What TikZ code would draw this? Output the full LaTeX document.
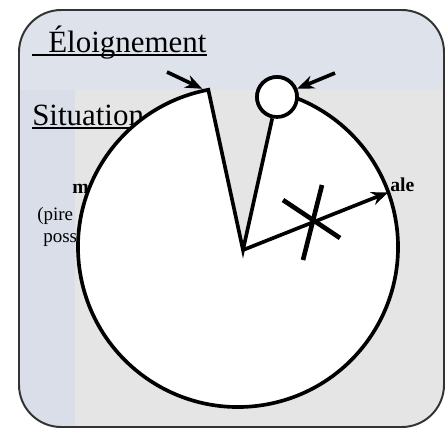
\documentclass[tikz,border=0pt]{standalone}
\usepackage{fontspec}
\setmainfont{Liberation Serif}
\usepackage{tikz}
\usetikzlibrary{arrows.meta, calc, positioning}
\definecolor{bandblue}{HTML}{DEE2EB}
\definecolor{stripblue}{HTML}{D9DEE9}
\definecolor{panelgray}{HTML}{E5E5E5}
\definecolor{rimgray}{HTML}{333333}

\begin{document}
\begin{tikzpicture}[x=0.025cm, y=-0.025cm, >={Stealth[length=12pt, width=9.5pt]},
    big/.style={font=\fontsize{22}{24}\selectfont, inner sep=0pt, anchor=base west},
    small/.style={font=\fontsize{13.5}{16}\selectfont, inner sep=0pt, anchor=base west},
    heavy/.style={line width=2.6pt, line join=miter},
    ul/.style={line width=1pt}]
    \useasboundingbox[fill=white] (0,0) rectangle (446,429);
    % fond du cadre
    \begin{scope}
        \clip[rounded corners=30] (19,10) rectangle (444,427);
        \fill[panelgray] (0,0) rectangle (446,429);
        \fill[bandblue] (0,0) rectangle (446,90);
        \fill[stripblue] (0,90) rectangle (75,429);
    \end{scope}
    \draw[rimgray, line width=1.4pt, rounded corners=30] (19,10) rectangle (444,427);
    % titres soulignes
    \node[big] (tEloi) at (48,52) {Éloignement};
    \draw[ul] ($(tEloi.base west)+(-16,3)$) -- ($(tEloi.base east)+(0,3)$);
    \node[big] (tSit) at (32,125) {Situation};
    \draw[ul] ($(tSit.base west)+(0,3)$) -- ($(tSit.base east)+(0,3)$);
    % textes caches par le disque
    \node[small, font=\fontsize{14}{16}\selectfont\bfseries] (tMin) at (72,193) {m};
    \node[small] (tPire) at (37,220) {(pire};
    \node[small] (tPoss) at (43,242) {poss};
    \node[small, font=\fontsize{14}{16}\selectfont\bfseries] (tAle) at (390,191) {ale};
    % disque entame
    \coordinate (C) at (238,247);
    \coordinate (V) at (243,250);
    \path (C) ++(259.3:160) coordinate (rimL);
    \path (C) ++(-20:160) coordinate (tipMax);
    \node[circle, draw, heavy, fill=white, minimum size=1cm, inner sep=0pt] (hole) at (277,97) {};
    \fill[white] (V) -- (rimL) arc[start angle=259.3, end angle=-68, radius=160] -- (hole.center) -- cycle;
    \draw[heavy] (hole) -- (V) -- (rimL) arc[start angle=259.3, end angle=-68, radius=160];
    \node[circle, draw, heavy, fill=white, minimum size=1cm, inner sep=0pt] at (hole) {};
    % fleches
    \coordinate (a1) at (167,72);
    \coordinate (a2) at (335,73);
    \draw[->, heavy] (a1) -- ($(rimL)+(-6,-1)$);
    \draw[->, heavy] (a2) -- (hole);
    \draw[->, heavy] (V) -- (tipMax);
    % croix
    \coordinate (X) at (313,222);
    \draw[line width=3.3pt] (X) ++(-30,-22) -- ++(57,38);
    \draw[line width=3.3pt] (X) ++(9,-37) -- ++(-19,75);
\end{tikzpicture}
\end{document}
